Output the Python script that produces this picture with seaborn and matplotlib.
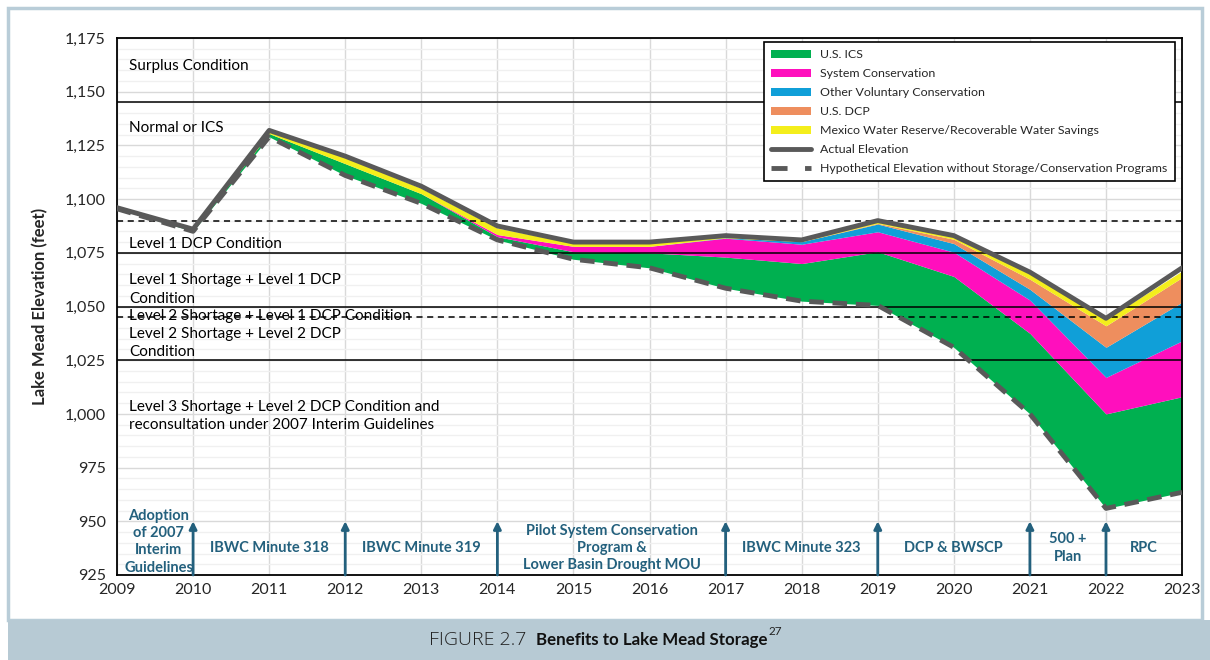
import matplotlib
matplotlib.use("Agg")
import matplotlib.pyplot as plt
import seaborn as sns
from matplotlib.lines import Line2D
from matplotlib.patches import Patch, Rectangle
from matplotlib.ticker import FuncFormatter, MultipleLocator

years = list(range(2009, 2024))
hypothetical = [1095.5, 1085, 1129, 1111, 1098, 1081, 1072, 1068, 1058.5,
                1052.5, 1050.5, 1031, 1000, 956, 963.5]
actual = [1096, 1086, 1132, 1120, 1106, 1087.5, 1080, 1080, 1083, 1081,
          1090, 1083, 1066, 1044.5, 1068]

# stacked layers on top of the hypothetical elevation (feet)
us_ics = [0.3, 0.5, 1.5, 5.5, 4.5, 1.5, 3.5, 7, 14.5, 17.5, 25, 33, 37.5, 44, 44.5]
system_cons = [0, 0, 0, 0, 0, 1, 2.5, 3, 8.8, 9, 9.3, 11.3, 15.5, 17, 26]
other_vol = [0, 0, 0, 0, 0, 0, 0, 0, 0.2, 1.2, 3.6, 4, 5, 14, 18]
us_dcp = [0, 0, 0, 0, 0, 0, 0, 0, 0, 0, 0.3, 2, 4.7, 10, 11.5]
mexico = [0, 0.2, 1.5, 3, 2.5, 3, 1.5, 1.5, 0.5, 0.5, 1.2, 1.5, 2.5, 3, 3]

layer_names = ["U.S. ICS", "System Conservation", "Other Voluntary Conservation",
               "U.S. DCP", "Mexico Water Reserve/Recoverable Water Savings"]
layer_colors = ["#00b050", "#ff0fbd", "#109fd8", "#ee8e5e", "#f4ee1c"]

solid_levels = [1145, 1075, 1050, 1025]
dashed_levels = [1090, 1045]

condition_labels = [
    (1162, "Surplus Condition"),
    (1133, "Normal or ICS"),
    (1079, "Level 1 DCP Condition"),
    (1058, "Level 1 Shortage + Level 1 DCP\nCondition"),
    (1045.5, "Level 2 Shortage + Level 1 DCP Condition"),
    (1033, "Level 2 Shortage + Level 2 DCP\nCondition"),
    (999, "Level 3 Shortage + Level 2 DCP Condition and\nreconsultation under 2007 Interim Guidelines"),
]

event_years = [2010, 2012, 2014, 2017, 2019, 2021, 2022]
event_labels = [
    (2009.55, 940.5, "Adoption\nof 2007\nInterim\nGuidelines"),
    (2011, 937.5, "IBWC Minute 318"),
    (2013, 937.5, "IBWC Minute 319"),
    (2015.5, 937.5, "Pilot System Conservation\nProgram &\nLower Basin Drought MOU"),
    (2018, 937.5, "IBWC Minute 323"),
    (2020, 937.5, "DCP & BWSCP"),
    (2021.5, 937.5, "500 +\nPlan"),
    (2022.5, 937.5, "RPC"),
]

LINE_GREY = "#595959"
TEAL = "#23607d"


def main() -> None:
    sns.set_theme(style="white")
    plt.rcParams["font.family"] = ["Lato", "DejaVu Sans"]

    fig = plt.figure(figsize=(12.1, 6.6), dpi=100)
    ax = fig.add_axes([0.0967, 0.1288, 0.8802, 0.8136])

    # stacked areas
    base = list(hypothetical)
    for vals, color in zip([us_ics, system_cons, other_vol, us_dcp, mexico], layer_colors):
        top = [b + v for b, v in zip(base, vals)]
        ax.fill_between(years, base, top, color=color, lw=0, zorder=2)
        base = top

    # condition lines
    for lvl in solid_levels:
        ax.axhline(lvl, color="black", lw=1.1, zorder=3)
    for lvl in dashed_levels:
        ax.axhline(lvl, color="black", lw=1.1, ls=(0, (4, 3)), zorder=3)

    sns.lineplot(x=years, y=hypothetical, ax=ax, color=LINE_GREY, lw=3.5,
                 linestyle=(0, (3, 1.8)), zorder=4)
    sns.lineplot(x=years, y=actual, ax=ax, color=LINE_GREY, lw=3.5, zorder=5)

    for y, txt in condition_labels:
        ax.text(2009.16, y, txt, fontsize=11, color="black", va="center",
                ha="left", linespacing=1.4, zorder=6)

    for yr in event_years:
        ax.annotate("", xy=(yr, 950), xytext=(yr, 925),
                    arrowprops=dict(arrowstyle="-|>", color=TEAL, lw=2,
                                    mutation_scale=11, shrinkA=0, shrinkB=0),
                    zorder=6)
    for x, y, txt in event_labels:
        ax.text(x, y, txt, fontsize=10.5, fontweight="bold", color=TEAL,
                ha="center", va="center", linespacing=1.3, zorder=6)

    ax.set_xlim(2009, 2023)
    ax.set_ylim(925, 1175)
    ax.set_xticks(years)
    ax.yaxis.set_major_locator(MultipleLocator(25))
    ax.yaxis.set_minor_locator(MultipleLocator(5))
    ax.yaxis.set_major_formatter(FuncFormatter(lambda v, _: f"{v:,.0f}"))
    ax.grid(axis="x", which="major", color="#d9d9d9", lw=1, zorder=0)
    ax.grid(axis="y", which="major", color="#d9d9d9", lw=1, zorder=0)
    ax.grid(axis="y", which="minor", color="#f0f0f0", lw=1, zorder=0)
    ax.set_axisbelow(True)
    ax.tick_params(axis="both", which="both", length=0, labelsize=11.5, pad=8)
    ax.tick_params(axis="x", pad=6)
    for sp in ax.spines.values():
        sp.set_color("black")
        sp.set_linewidth(1.3)
    ax.set_xlabel("")
    ax.set_ylabel("Lake Mead Elevation (feet)", fontsize=12, fontweight="bold",
                  labelpad=12)

    handles = [Patch(facecolor=c, edgecolor="none") for c in layer_colors]
    handles += [Line2D([0], [0], color=LINE_GREY, lw=3.5),
                Line2D([0], [0], color=LINE_GREY, lw=3.5, ls=(0, (3.3, 3.6)))]
    labels = layer_names + ["Actual Elevation",
                            "Hypothetical Elevation without Storage/Conservation Programs"]
    leg = ax.legend(handles, labels, loc="upper right", bbox_to_anchor=(0.9935, 0.9925),
                    borderaxespad=0, fontsize=8.9, frameon=True, fancybox=False,
                    edgecolor="black", framealpha=1, borderpad=0.6, labelspacing=0.64,
                    handlelength=3.2, handleheight=0.65, handletextpad=0.8)
    leg.get_frame().set_linewidth(1.2)
    leg.set_zorder(10)

    # outer frame and caption band
    fig.patches.append(Rectangle((8 / 1210, 40 / 660), 1 - 16 / 1210, 1 - 48 / 660,
                                 transform=fig.transFigure, fill=False,
                                 edgecolor="#b9cdd8", lw=2.5, zorder=0))
    fig.patches.append(Rectangle((8 / 1210, 0), 1 - 8 / 1210, 40 / 660,
                                 transform=fig.transFigure, facecolor="#b7cad4",
                                 edgecolor="none", zorder=0))
    fig.text(526 / 1210, 0.030, "FIGURE 2.7", fontsize=14, color="#222222",
             ha="right", va="center", family=["Open Sans", "DejaVu Sans"],
             fontweight="light")
    title = fig.text(536 / 1210, 0.030, "Benefits to Lake Mead Storage", fontsize=12.2,
                     fontweight="bold", color="#111111", ha="left", va="center")
    fig.canvas.draw()
    bb = title.get_window_extent().transformed(fig.transFigure.inverted())
    fig.text(bb.x1 + 0.001, 0.043, "27", fontsize=8.5, color="#222222", ha="left",
             va="center")

    fig.savefig("out.png", dpi=100)
    plt.close(fig)


if __name__ == "__main__":
    main()
